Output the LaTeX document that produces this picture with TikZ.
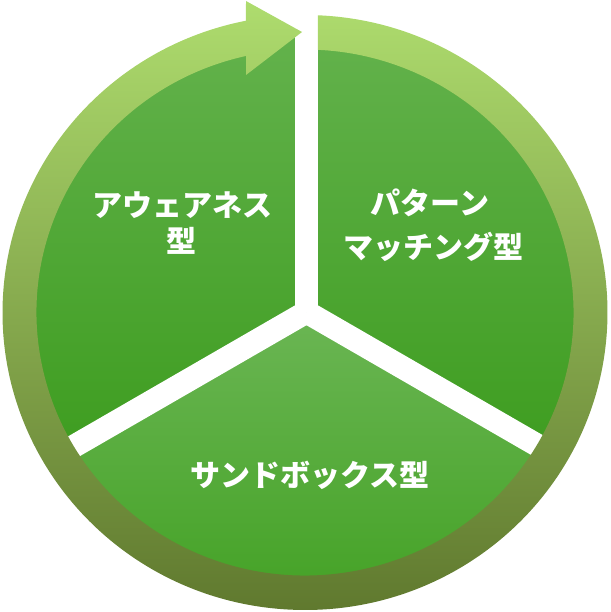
\documentclass[tikz,border=0pt]{standalone}
\usepackage{fontspec}
\newfontfamily\jp{Noto Sans CJK JP}
\definecolor{ringTop}{HTML}{AEDC6E}
\definecolor{ringMid}{HTML}{96C25B}
\definecolor{ringBot}{HTML}{5F782E}
\definecolor{upTop}{HTML}{63B24C}
\definecolor{upBot}{HTML}{3E9D20}
\definecolor{lowTop}{HTML}{6BB654}
\definecolor{lowBot}{HTML}{40A021}
\begin{document}
\begin{tikzpicture}[x=1pt,y=1pt,
  lbl/.style={text=white, font=\jp\bfseries\fontsize{30}{36}\selectfont, inner sep=0pt, anchor=base},
  gapband/.style={draw=white, line width=23pt}]
\useasboundingbox (-305,-299.5) rectangle (305,312.5);
\coordinate (C) at (1.5,0.5);
\coordinate (Ctop) at (1.5,330);
% pie sectors
\shade[top color=upTop, bottom color=upBot] (C) -- ++(0,280) arc[start angle=90, end angle=210, radius=280] -- cycle;
\shade[top color=upTop, bottom color=upBot] (C) -- ++(0,280) arc[start angle=90, end angle=-30, radius=280] -- cycle;
\shade[top color=lowTop, bottom color=lowBot] (C) -- ++(210:280) arc[start angle=210, end angle=330, radius=280] -- cycle;
% white gaps
\draw[gapband] (C) -- (Ctop);
\draw[gapband] (C) -- ++(210:285);
\draw[gapband] (C) -- ++(330:285);
% ring arrow
\coordinate (aTop) at (-59,311.5);
\coordinate (aTip) at (-3,280.5);
\coordinate (aBot) at (-59,237.5);
\shade[top color=ringTop, middle color=ringMid, bottom color=ringBot]
  (87.54:302.5 and 297.5) arc[start angle=87.54, end angle=-258.75, x radius=302.5, y radius=297.5]
  -- (aTop) -- (aTip) -- (aBot)
  -- (102.69:268.5 and 263) arc[start angle=102.69, end angle=447.225, x radius=268.5, y radius=263]
  -- cycle;
% labels
\node[lbl] (t1) at (-122,95.6) {アウェアネス};
\node[lbl] (t2) at (-123,59.6) {型};
\node[lbl] (t3) at (125,98.1) {パターン};
\node[lbl] (t4) at (128,53.6) {マッチング型};
\node[lbl] (t5) at (5,-173.9) {サンドボックス型};
\end{tikzpicture}
\end{document}
